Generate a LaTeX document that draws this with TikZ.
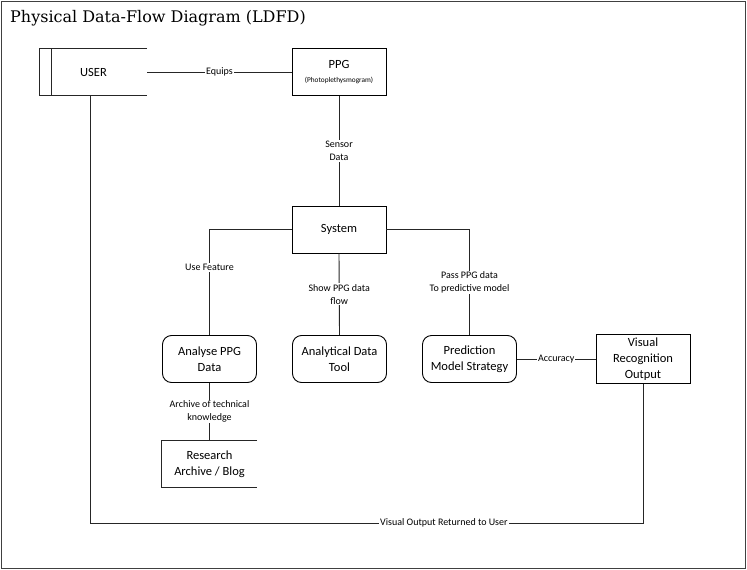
\documentclass[tikz,border=0pt]{standalone}
\usepackage{fontspec}
\setmainfont{Carlito}
\newfontfamily\titlefont{DejaVu Serif}
\usetikzlibrary{positioning}
\tikzset{
box/.style={
  draw=black,
  line width=0.9pt,
  rectangle,
  minimum width=94pt,
  minimum height=47pt,
  align=center,
  font=\fontsize{12.5}{16}\selectfont
},
roundbox/.style={box,rounded corners=9pt},
store/.style={
  rectangle,
  minimum height=47pt,
  align=center,
  font=\fontsize{12.5}{16}\selectfont
},
lbl/.style={
  fill=white,
  inner sep=1pt,
  align=center,
  font=\fontsize{10}{13}\selectfont
},
flow/.style={draw=black!85,line width=0.9pt},
}

\begin{document}
\begin{tikzpicture}[x=1pt,y=-1pt]
\useasboundingbox (0,0) rectangle (747,570);
\draw[black!75,line width=0.9pt] (1,1) rectangle (745,568);
\node[anchor=base west,inner sep=0pt,font=\titlefont\fontsize{16}{18}\selectfont] (title) at (10,23) {Physical Data-Flow Diagram (LDFD)};

% the nodes
\node[store,minimum width=107pt] (user) at (93.5,72) {USER};
\node[box] (ppg) at (339,72) {PPG\\[-2pt]{\fontsize{7.3}{8}\selectfont (Photoplethysmogram)}};
\node[box] (sys) at (339,229.5) {System};
\node[roundbox] (ana) at (209.5,359) {Analyse PPG\\Data};
\node[roundbox] (tool) at (339.5,359) {Analytical Data\\Tool};
\node[roundbox] (pred) at (469.5,359) {Prediction\\Model Strategy};
\node[box] (vis) at (643,359) {Visual\\Recognition\\Output};
\node[store,minimum width=95pt] (arch) at (209.5,464) {Research\\Archive / Blog};
\coordinate (ret) at (0,523);

% the open stores
\draw[flow] (user.north east) -- (user.north west) -- (user.south west) -- (user.south east);
\draw[flow] ([xshift=12pt]user.north west) -- ([xshift=12pt]user.south west);
\draw[flow] (arch.north east) -- (arch.north west) -- (arch.south west) -- (arch.south east);

% the flows
\draw[flow] (user.east) -- node[lbl] {Equips} (ppg.west);
\draw[flow] (ppg.south) -- node[lbl] {Sensor\\Data} (sys.north);
\draw[flow] (sys.west) -| node[lbl,pos=0.68] {Use Feature} (ana.north);
\draw[flow] (sys.south) -- node[lbl] {Show PPG data\\flow} (tool.north);
\draw[flow] (sys.east) -| node[lbl,pos=0.75] {Pass PPG data\\To predictive model} (pred.north);
\draw[flow] (pred.east) -- node[lbl] {Accuracy} (vis.west);
\draw[flow] (ana.south) -- node[lbl] {Archive of technical\\knowledge} (arch.north);
\draw[flow] (vis.south) -- (vis.south |- ret) -- node[lbl,pos=0.36] {Visual Output Returned to User} ([xshift=-3.5pt]user.south |- ret) -- ([xshift=-3.5pt]user.south);
\end{tikzpicture}
\end{document}
